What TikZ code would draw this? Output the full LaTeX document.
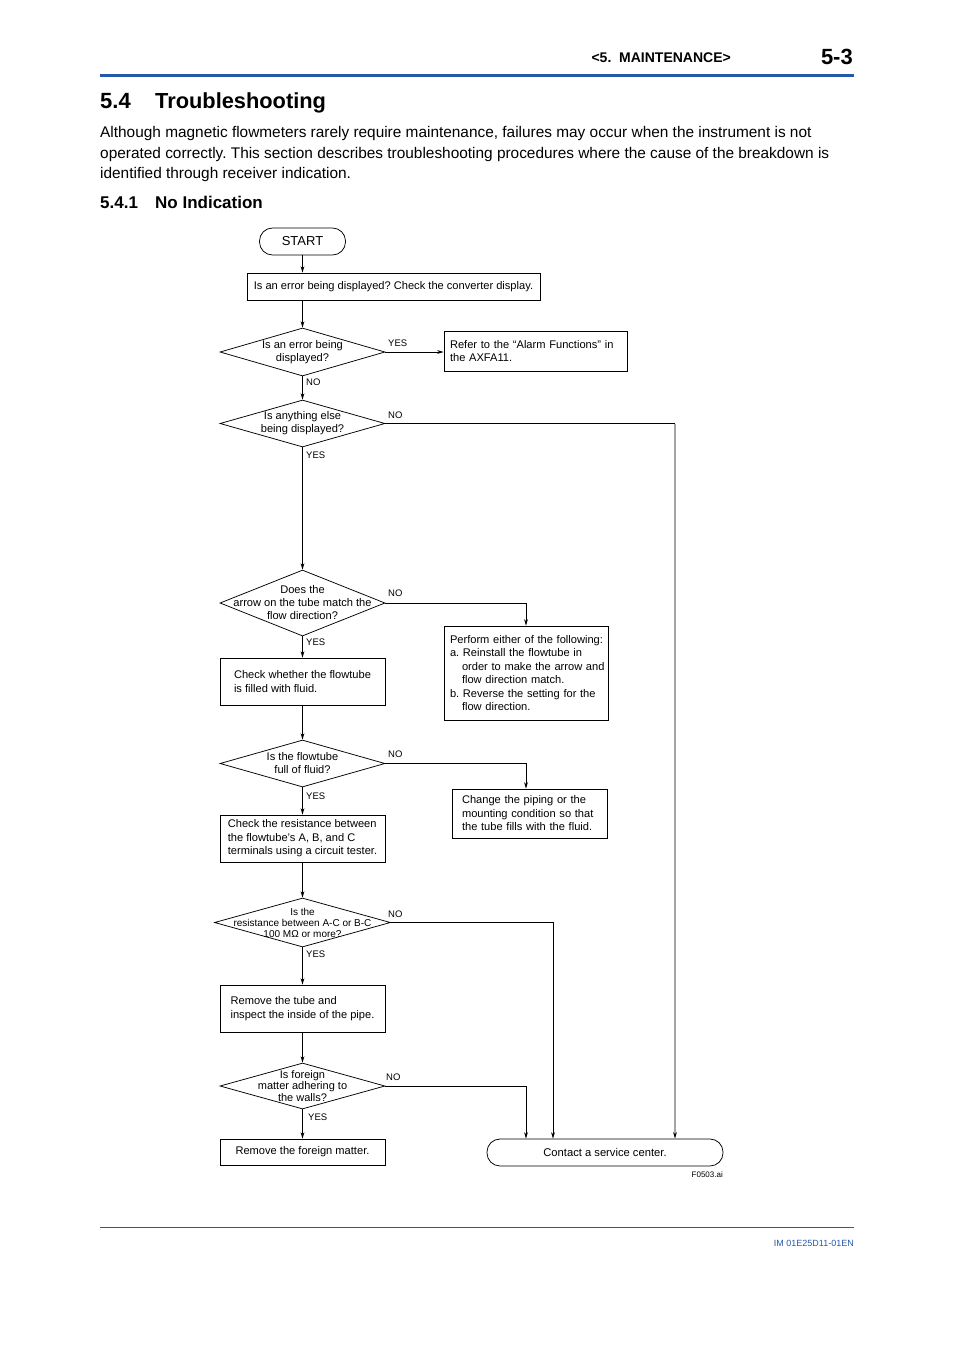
\documentclass[tikz,border=0pt]{standalone}
\usepackage{fontspec}
\setmainfont{Liberation Sans}
\usetikzlibrary{arrows.meta,shapes.geometric}
\definecolor{ykblue}{RGB}{36,88,170}
\definecolor{lnk}{RGB}{165,165,165}
\frenchspacing
\begin{document}
\begin{tikzpicture}[x=1pt,y=-1pt,
  ln/.style={line width=0.75pt},
  arr/.style={ln,-{Stealth[length=6.5pt,width=3.8pt]}},
  box/.style={draw,line width=0.75pt,inner sep=0pt,align=left,font=\fontsize{11.1}{13.5}\selectfont},
  stad/.style={draw,line width=0.75pt,rounded corners=13pt,inner sep=0pt,font=\fontsize{11.2}{13}\selectfont},
  dia/.style={draw,line width=0.75pt,diamond,inner sep=0pt},
  dtxt/.style={align=center,inner sep=0pt,font=\fontsize{11.1}{13}\selectfont},
  lbl/.style={inner sep=0pt,font=\fontsize{9.5}{10}\selectfont},
]
\useasboundingbox (0,0) rectangle (954,1350);
% header
\node[anchor=base east,inner sep=0pt,font=\bfseries\fontsize{14}{15}\selectfont] (hdr) at (731,62) {<5.\ \ MAINTENANCE>};
\node[anchor=base east,inner sep=0pt,font=\bfseries\fontsize{22}{25}\selectfont] (pg) at (853,64) {5-3};
\draw[ykblue,line width=3pt] (100,75) -- (854,75);
\node[anchor=base west,inner sep=0pt,font=\bfseries\fontsize{22}{24}\selectfont] (secn) at (100,108) {5.4};
\node[anchor=base west,inner sep=0pt,font=\bfseries\fontsize{21.8}{24}\selectfont] (sect) at (155,108) {Troubleshooting};
\node[anchor=base west,inner sep=0pt,font=\fontsize{15.4}{20}\selectfont] (p1) at (100,137.5) {Although magnetic flowmeters rarely require maintenance, failures may occur when the instrument is not};
\node[anchor=base west,inner sep=0pt,font=\fontsize{15.4}{20}\selectfont] (p2) at (100,158) {operated correctly. This section describes troubleshooting procedures where the cause of the breakdown is};
\node[anchor=base west,inner sep=0pt,font=\fontsize{15.4}{20}\selectfont] (p3) at (100,178.5) {identified through receiver indication.};
\node[anchor=base west,inner sep=0pt,font=\bfseries\fontsize{17}{20}\selectfont] (ssn) at (100,208.5) {5.4.1};
\node[anchor=base west,inner sep=0pt,font=\bfseries\fontsize{17}{20}\selectfont] (sst) at (155,208.5) {No Indication};
% flowchart nodes
\node[stad,minimum width=86pt,minimum height=27pt,font=\fontsize{13}{14}\selectfont] (start) at (302.5,241.5) {START};
\node[box,minimum width=293pt,minimum height=27pt] (b1) at (393.5,286.5) {Is an error being displayed? Check the converter display.};
\node[dia,minimum width=165pt,minimum height=48pt] (d1) at (302.5,352) {};
\node[dtxt] (t1) at (d1) {Is an error being\\displayed?};
\node[box,minimum width=183pt,minimum height=40pt,text width=171pt] (alarm) at (535.5,351) {Refer to the “Alarm Functions” in\\the AXFA11.};
\node[dia,minimum width=165pt,minimum height=47pt] (d2) at (302.5,423.5) {};
\node[dtxt] (t2) at (d2) {Is anything else\\being displayed?};
\node[dia,minimum width=165pt,minimum height=66pt] (d3) at (302.5,603) {};
\node[dtxt] (t3) at (d3) {Does the\\arrow on the tube match the\\flow direction?};
\node[box,minimum width=164pt,minimum height=94pt,text width=152pt] (perf) at (526,673) {\mbox{Perform either of the following:}\\\mbox{a. Reinstall the flowtube in}\\\mbox{\hspace*{12pt}order to make the arrow and}\\\mbox{\hspace*{12pt}flow direction match.}\\\mbox{b. Reverse the setting for the}\\\mbox{\hspace*{12pt}flow direction.}};
\node[box,minimum width=165pt,minimum height=47pt] (chk) at (302.5,681.5) {Check whether the flowtube\\is filled with fluid.};
\node[dia,minimum width=165pt,minimum height=47pt] (d4) at (302.5,763.5) {};
\node[dtxt] (t4) at (d4) {Is the flowtube\\full of fluid?};
\node[box,minimum width=155pt,minimum height=49pt,text width=135pt] (chg) at (529.5,813.5) {Change the piping or the\\mounting condition so that\\the tube fills with the fluid.};
\node[box,minimum width=165pt,minimum height=47pt] (res) at (302.5,838.5) {Check the resistance between\\the flowtube’s A, B, and C\\terminals using a circuit tester.};
\node[dia,minimum width=176pt,minimum height=49pt] (d5) at (302.5,922.5) {};
\node[dtxt,font=\fontsize{10}{11}\selectfont] (t5) at (d5) {Is the\\resistance between A-C or B-C\\100 MΩ or more?};
\node[box,minimum width=165pt,minimum height=47pt] (rmt) at (302.5,1008.5) {Remove the tube and\\inspect the inside of the pipe.};
\node[dia,minimum width=165pt,minimum height=46pt] (d6) at (302.5,1086) {};
\node[dtxt,font=\fontsize{11}{11.5}\selectfont] (t6) at (d6) {Is foreign\\matter adhering to\\the walls?};
\node[box,minimum width=165pt,minimum height=26pt] (rmf) at (302.5,1152) {Remove the foreign matter.};
\node[stad,minimum width=236pt,minimum height=27pt] (svc) at (605,1152.5) {Contact a service center.};
\coordinate (xa) at (526,0);
\coordinate (xb) at (553,0);
\coordinate (xg) at (675,0);
% connectors
\draw[arr] (start.south) -- (start.south |- b1.north);
\draw[arr] (b1.south -| d1) -- (d1.north);
\draw[arr] (d1.east) -- (d1.east -| alarm.west);
\draw[arr] (d1.south) -- (d2.north);
\draw[ln] (d2.east) -- (d2.east -| xg);
\draw[line width=1.1pt,draw=lnk,-{Stealth[length=6.5pt,width=3.8pt,color=black]}] (d2.east -| xg) -- (svc.north -| xg);
\draw[arr] (d2.south) -- (d3.north);
\draw[arr] (d3.east) -| (perf.north);
\draw[arr] (d3.south) -- (chk.north);
\draw[arr] (chk.south) -- (d4.north);
\draw[arr] (d4.east) -| (chg.north -| xa);
\draw[arr] (d4.south) -- (res.north);
\draw[arr] (res.south) -- (d5.north);
\draw[arr] (d5.east) -| (svc.north -| xb);
\draw[arr] (d5.south) -- (rmt.north);
\draw[arr] (rmt.south) -- (d6.north);
\draw[arr] (d6.east) -| (svc.north -| xa);
\draw[arr] (d6.south) -- (rmf.north);
% labels
\node[lbl,anchor=west] (l1y) at (388,343) {YES};
\node[lbl,anchor=west] (l1n) at (306,382) {NO};
\node[lbl,anchor=west] (l2n) at (388,415) {NO};
\node[lbl,anchor=west] (l2y) at (306,455) {YES};
\node[lbl,anchor=west] (l3n) at (388,593) {NO};
\node[lbl,anchor=west] (l3y) at (306,642) {YES};
\node[lbl,anchor=west] (l4n) at (388,754) {NO};
\node[lbl,anchor=west] (l4y) at (306,796) {YES};
\node[lbl,anchor=west] (l5n) at (388,914) {NO};
\node[lbl,anchor=west] (l5y) at (306,954) {YES};
\node[lbl,anchor=west] (l6n) at (386,1077) {NO};
\node[lbl,anchor=west] (l6y) at (308,1117) {YES};
\node[anchor=base east,inner sep=0pt,font=\fontsize{8}{9}\selectfont] (fig) at (723,1177) {F0503.ai};
% footer
\draw[ykblue,line width=0.7pt] (100,1227) -- (854,1227);
\node[anchor=base east,inner sep=0pt,text=ykblue,font=\fontsize{9}{10}\selectfont] (doc) at (854,1246.5) {IM 01E25D11-01EN};
\end{tikzpicture}
\end{document}
